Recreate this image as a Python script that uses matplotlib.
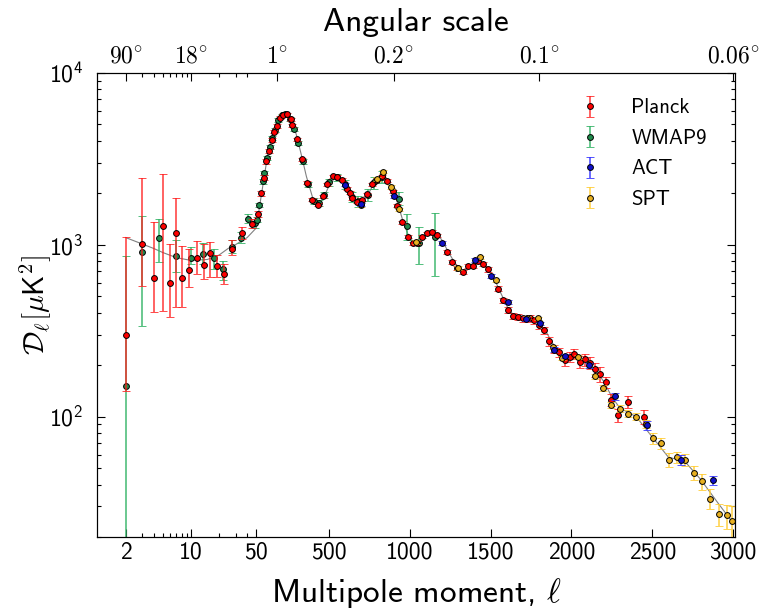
import numpy as np
import matplotlib
matplotlib.use("Agg")
import matplotlib.pyplot as plt

plt.rcParams['font.family'] = ['cmss10', 'DejaVu Sans']
plt.rcParams['mathtext.fontset'] = 'cm'
plt.rcParams['axes.unicode_minus'] = False

# Planck, low ell (asymmetric errors)
planck_l_low = [2, 3, 4, 5, 6, 7, 8, 9.5, 11.5, 13.7, 16, 19, 22.5, 27.5, 35, 45]
planck_D_low = [299, 1009, 644, 1285, 600, 1166, 641, 711, 832, 759, 890, 754, 677, 944, 1166, 1322]
planck_lo_low = [159, 436, 238, 874, 221, 733, 208, 143, 161, 128, 240, 104, 83, 73, 90, 80]
planck_hi_low = [805, 1446, 717, 1278, 404, 700, 345, 229, 220, 248, 150, 117, 90, 121, 100, 90]

# Planck, high ell
planck_l_high = [64, 81, 95, 112, 131, 146, 160, 176, 196, 217, 242, 263, 274, 305, 332, 367,
                 398, 429, 461, 490, 523, 551, 583, 613, 633, 644, 675, 706, 737, 768, 799, 830,
                 861, 898, 922, 954, 989, 1020, 1047, 1078, 1109, 1140, 1171, 1233, 1264, 1295,
                 1326, 1357, 1388, 1420, 1450, 1481, 1547, 1576, 1607, 1639, 1670, 1701, 1744,
                 1768, 1800, 1831, 1862, 1894, 1926, 1959, 1988, 2016, 2051, 2083, 2114, 2148,
                 2177, 2211, 2244, 2286, 2347, 2446]
planck_D_high = [1500, 1990, 2450, 3050, 3500, 4050, 4540, 4900, 5480, 5680, 5730, 5360, 4940,
                 4090, 3130, 2290, 1830, 1710, 1910, 2240, 2500, 2480, 2390, 2110, 2000, 1860,
                 1780, 1830, 1960, 2240, 2390, 2500, 2360, 2040, 1680, 1350, 1115, 1020, 1026,
                 1114, 1166, 1191, 1135, 910, 789, 728, 690, 751, 754, 800, 771, 718, 553, 475,
                 418, 385, 380, 372, 372, 363, 341, 317, 274, 247, 236, 212, 223, 231, 208, 215,
                 206, 188, 176, 159, 125, 102, 122, 100]
planck_err_high = [60, 70, 80, 90, 90, 95, 100, 100, 100, 100, 100, 95, 90, 75, 60, 45, 40, 38,
                   40, 45, 48, 48, 46, 42, 40, 38, 36, 37, 40, 44, 46, 48, 45, 40, 34, 28, 24,
                   22, 22, 24, 25, 26, 25, 22, 20, 19, 18, 20, 21, 22, 22, 21, 18, 17, 16, 15,
                   15, 15, 16, 16, 16, 16, 15, 14, 14, 14, 15, 16, 16, 17, 17, 17, 17, 12, 10,
                   9, 10, 9]

# WMAP9
wmap_l = [2, 3, 4.5, 7, 10, 13.5, 17.5, 22, 27.7, 34.3, 41, 48.5,
          57, 70, 89, 100, 116, 135, 148, 165, 185, 207, 230, 258, 285, 310, 340, 370,
          405, 440, 470, 500, 550, 600, 640, 680, 740, 780, 830, 933, 985, 1057, 1157]
wmap_D = [151, 903, 1100, 859, 832, 883, 835, 718, 973, 1100, 1419, 1334,
          1400, 1700, 2335, 2615, 3200, 3700, 4190, 4650, 5300, 5650, 5750, 5400, 4700, 3900,
          3050, 2250, 1800, 1750, 1950, 2300, 2470, 2250, 1900, 1790, 1950, 2300, 2470, 1842,
          1291, 1019, 1104]
wmap_lo = [150, 567, 311, 169, 64, 115, 115, 98, 83, 80, 80, 80,
           50, 55, 70, 75, 90, 100, 110, 115, 125, 130, 130, 130, 120, 105, 90, 75, 70, 75,
           85, 100, 120, 130, 130, 140, 160, 180, 200, 136, 227, 248, 448]
wmap_hi = [708, 569, 310, 200, 135, 140, 110, 85, 90, 80, 80, 80,
           50, 55, 70, 75, 90, 100, 110, 115, 125, 130, 130, 130, 120, 105, 90, 75, 70, 75,
           85, 100, 120, 130, 130, 140, 160, 180, 200, 181, 222, 246, 424]

# ACT
act_l = [598, 696, 902, 1202, 1404, 1502, 1607, 1716, 1805, 1895, 1960, 2110, 2267, 2467, 2676, 2875]
act_D = [2234, 1722, 1908, 1026, 814, 659, 463, 368, 348, 245, 225, 199, 131, 89, 56, 42.5]
act_err = [40, 35, 40, 25, 20, 16, 12, 10, 9, 8, 7, 7, 6, 5, 3.5, 2.5]

# SPT
spt_l = [700, 800, 834, 882, 933, 1041, 1300, 1435, 1533, 1727, 1792, 1886, 1942, 2043, 2148,
         2198, 2245, 2298, 2347, 2399, 2460, 2504, 2554, 2604, 2655, 2705, 2756, 2806, 2858,
         2911, 2961, 2995]
spt_D = [1700, 2400, 2660, 2168, 1603, 1040, 730, 844, 620, 376, 373, 255, 218, 223, 172, 147,
         117, 111, 104, 100, 91, 75, 70, 56, 58, 56, 47, 42, 33, 27.2, 26.6, 24.6]
spt_lo = [50, 60, 60, 50, 40, 25, 18, 18, 14, 9, 8, 7, 6, 6, 6, 6, 5, 5, 5, 5, 5, 5.5, 5, 5,
          4.5, 4.5, 4.5, 4.5, 4.2, 4.2, 4.3, 4.6]
spt_hi = [50, 60, 60, 50, 40, 25, 18, 18, 14, 9, 8, 7, 6, 6, 6, 6, 5, 5, 5, 5, 5, 5.5, 5, 5,
          4.5, 4.5, 4.5, 4.5, 4.8, 4.0, 4.1, 5.6]

# best-fit curve (grey)
theory_l = [2, 3, 4, 5, 7, 10, 15, 20, 25, 30, 40, 50, 80, 100, 120, 150, 180, 200, 220, 240,
            260, 280, 300, 330, 360, 400, 420, 440, 470, 500, 540, 580, 620, 660, 700, 740,
            780, 820, 850, 880, 920, 960, 1000, 1040, 1080, 1120, 1160, 1200, 1240, 1280,
            1320, 1360, 1400, 1440, 1480, 1520, 1560, 1600, 1640, 1680, 1720, 1760, 1800,
            1840, 1880, 1920, 1960, 2000, 2050, 2100, 2150, 2200, 2250, 2300, 2400, 2500,
            2600, 2700, 2800, 2900, 3000]
theory_D = [1100, 1010, 950, 900, 840, 810, 820, 870, 950, 1000, 1100, 1250, 1900, 2500, 3300,
            4400, 5300, 5600, 5750, 5700, 5450, 4950, 4300, 3300, 2500, 1860, 1760, 1750, 1900,
            2200, 2480, 2430, 2100, 1830, 1790, 1950, 2280, 2500, 2480, 2250, 1800, 1350, 1080,
            1020, 1090, 1170, 1180, 1060, 900, 780, 710, 720, 790, 800, 740, 640, 530, 440,
            390, 375, 372, 368, 350, 315, 270, 238, 218, 222, 215, 205, 185, 160, 130, 112,
            100, 76, 58, 55, 43, 32, 24]

# angular scale labels on the top axis
top_l = [2, 10, 180, 900, 1800, 3000]
top_deg = ['90', '18', '1', '0.2', '0.1', '0.06']

# log scale up to ell=50, linear after
LIN = 0.00173


def fwd(x):
    x = np.asarray(x, dtype=float)
    lg = np.log10(np.clip(x, 1e-3, None))
    return np.where(x <= 50, lg, np.log10(50) + (x - 50) * LIN)


def inv(v):
    v = np.asarray(v, dtype=float)
    return np.where(v <= np.log10(50), 10 ** np.clip(v, -5, np.log10(50)),
                    50 + (v - np.log10(50)) / LIN)


fig = plt.figure(figsize=(7.61, 6.16), dpi=100)
ax = fig.add_axes([0.1281, 0.1287, 0.8378, 0.7532])

ax.plot(theory_l, theory_D, color='0.5', lw=0.8, zorder=1)

kw = dict(fmt='o', ms=4.2, mec='k', mew=0.7, capsize=2.8, elinewidth=1.2, capthick=1.2)
planck_l = planck_l_low + planck_l_high
planck_D = planck_D_low + planck_D_high
h_planck = ax.errorbar(planck_l, planck_D,
                       yerr=[planck_lo_low + planck_err_high, planck_hi_low + planck_err_high],
                       mfc='red', ecolor=(1, 0.1, 0.1, 0.8), label='Planck', zorder=3, **kw)
h_wmap = ax.errorbar(wmap_l, wmap_D, yerr=[wmap_lo, wmap_hi], mfc='#1f8a4c',
                     ecolor=(0.2, 0.7, 0.4, 0.85), label='WMAP9', zorder=2, **kw)
h_act = ax.errorbar(act_l, act_D, yerr=act_err, mfc='#1010c8',
                    ecolor=(0.2, 0.2, 1.0, 0.85), label='ACT', zorder=4, **kw)
h_spt = ax.errorbar(spt_l, spt_D, yerr=[spt_lo, spt_hi], mfc='#e8b020',
                    ecolor=(1.0, 0.8, 0.2, 0.85), label='SPT', zorder=3.5, **kw)

ax.set_xscale('function', functions=(fwd, inv))
ax.set_yscale('log')
ax.set_xlim(1, 3012)
ax.set_ylim(20, 1e4)

major_l = [2, 10, 50, 500, 1000, 1500, 2000, 2500, 3000]
minor_l = [3, 4, 5, 6, 7, 8, 9, 20, 30, 40]
ax.set_xticks(major_l)
ax.set_xticklabels([str(v) for v in major_l])
ax.set_xticks(minor_l, minor=True)

ax.tick_params(which='both', direction='in', top=False, right=True, labelsize=17)
ax.tick_params(which='major', length=6, width=0.8)
ax.tick_params(which='minor', length=3, width=0.8)
ax.tick_params(axis='y', pad=10)

ax2 = ax.twiny()
ax2.set_xscale('function', functions=(fwd, inv))
ax2.set_xlim(ax.get_xlim())
ax2.set_xticks(top_l)
ax2.set_xticklabels(['$\\mathsf{%s}^{\\circ}$' % d for d in top_deg])
ax2.set_xticks(minor_l, minor=True)
ax2.tick_params(which='both', direction='in', labelsize=17)
ax2.tick_params(which='major', length=6, width=0.8)
ax2.tick_params(which='minor', length=3, width=0.8)

ax.set_xlabel('Multipole moment, $\\ell$', fontsize=24)
ax.xaxis.set_label_coords(0.5, -0.085)
ax2.set_xlabel('Angular scale', fontsize=24)
ax2.xaxis.set_label_coords(0.5, 1.09)
ax.set_ylabel('$\\mathcal{D}_\\ell[\\mu\\mathsf{K}^2]$', fontsize=21)
ax.yaxis.set_label_coords(-0.07, 0.5)

ax.legend(handles=[h_planck, h_wmap, h_act, h_spt], loc='upper right',
          bbox_to_anchor=(0.985, 0.985), frameon=False, fontsize=15, numpoints=1,
          handlelength=1.0, handletextpad=1.5, labelspacing=0.55)

fig.savefig('out.png', dpi=100)
